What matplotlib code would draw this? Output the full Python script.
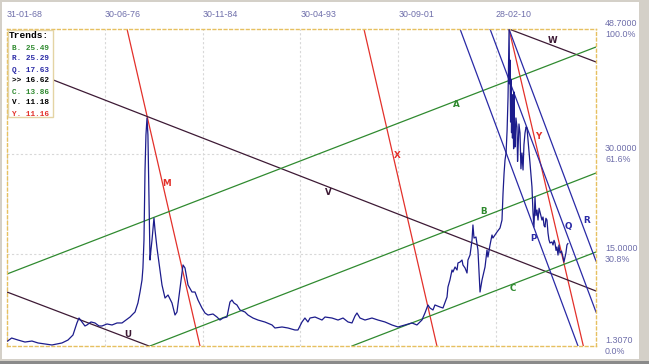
import numpy as np
import matplotlib
matplotlib.use('Agg')
import matplotlib.pyplot as plt
import matplotlib.transforms as mtrans
from matplotlib.patches import Rectangle

# Silver price (decimal year, price)
years = [1968.14, 1968.48, 1969.03, 1969.63, 1970.23, 1970.75, 1971.35, 1971.95, 1972.38, 1972.81,
         1973.33, 1973.76, 1974.10, 1974.28, 1974.53, 1974.79, 1974.96, 1975.31, 1975.65, 1976.00,
         1976.26, 1976.69, 1977.12, 1977.55, 1977.98, 1978.32, 1978.67, 1978.92, 1979.10, 1979.35,
         1979.53, 1979.70, 1979.78, 1979.87, 1979.96, 1980.04, 1980.13, 1980.21, 1980.30, 1980.39,
         1980.47, 1980.56, 1980.65, 1980.73, 1980.82, 1980.99, 1981.25, 1981.42, 1981.68, 1981.94,
         1982.28, 1982.54, 1982.71, 1982.97, 1983.14, 1983.23, 1983.40, 1983.66, 1984.00, 1984.26,
         1984.52, 1984.86, 1985.12, 1985.38, 1985.81, 1986.15, 1986.41, 1986.67, 1987.01, 1987.27,
         1987.44, 1987.61, 1987.87, 1988.13, 1988.56, 1988.82, 1989.25, 1989.68, 1990.28, 1990.89,
         1991.14, 1991.75, 1992.26, 1992.86, 1993.12, 1993.47, 1993.72, 1993.98, 1994.16, 1994.59,
         1995.19, 1995.45, 1996.05, 1996.57, 1997.00, 1997.43, 1997.77, 1998.03, 1998.20, 1998.46,
         1998.89, 1999.49, 2000.01, 2000.61, 2001.21, 2001.73, 2002.33, 2002.93, 2003.36, 2003.79,
         2004.05, 2004.31, 2004.48, 2004.74, 2004.91, 2005.34, 2005.60, 2005.95, 2006.03, 2006.20,
         2006.38, 2006.46, 2006.64, 2006.81, 2006.89, 2007.07, 2007.24, 2007.32, 2007.50, 2007.67,
         2007.75, 2007.93, 2008.10, 2008.18, 2008.27, 2008.44, 2008.61, 2008.79, 2008.96, 2009.22,
         2009.39, 2009.47, 2009.65, 2009.82, 2009.90, 2010.25, 2010.51, 2010.68, 2010.77, 2010.86,
         2010.94, 2011.03, 2011.12, 2011.20, 2011.29, 2011.33, 2011.37, 2011.42, 2011.46, 2011.50,
         2011.54, 2011.58, 2011.63, 2011.68, 2011.72, 2011.76, 2011.80, 2011.88, 2011.97, 2012.02,
         2012.06, 2012.14, 2012.23, 2012.31, 2012.40, 2012.49, 2012.57, 2012.66, 2012.75, 2012.83,
         2012.92, 2013.09, 2013.26, 2013.35, 2013.43, 2013.52, 2013.60, 2013.69, 2013.78, 2013.87,
         2013.95, 2014.12, 2014.21, 2014.30, 2014.38, 2014.46, 2014.55, 2014.64, 2014.72, 2014.81,
         2014.98, 2015.07, 2015.16, 2015.24, 2015.33, 2015.41, 2015.50, 2015.58, 2015.67, 2015.80,
         2015.93, 2016.01, 2016.10, 2016.18, 2016.27, 2016.35]
prices = [2.05, 2.50, 2.20, 1.90, 2.05, 1.76, 1.61, 1.46, 1.61, 1.76,
          2.20, 2.95, 4.75, 5.49, 4.90, 4.30, 4.45, 4.90, 4.75, 4.30,
          4.30, 4.60, 4.45, 4.75, 4.75, 5.19, 5.64, 6.09, 6.39, 7.74,
          9.38, 11.17, 12.97, 17.15, 27.62, 32.85, 35.39, 32.85, 23.13, 14.16,
          15.66, 17.15, 18.95, 20.44, 18.65, 15.96, 12.67, 10.43, 8.48, 8.93,
          7.74, 5.94, 6.39, 9.98, 12.22, 13.42, 12.97, 10.43, 9.38, 9.38,
          8.18, 6.99, 6.24, 5.94, 6.09, 5.64, 5.19, 5.49, 5.64, 7.88,
          8.18, 7.74, 7.44, 6.69, 6.39, 5.94, 5.49, 5.19, 4.89, 4.45,
          4.00, 4.15, 4.00, 3.70, 3.70, 4.90, 5.49, 4.90, 5.49, 5.64,
          5.19, 5.64, 5.49, 5.19, 5.49, 4.90, 4.75, 5.79, 6.24, 5.49,
          5.19, 5.49, 5.19, 4.90, 4.45, 4.15, 4.45, 4.75, 4.45, 5.19,
          6.24, 7.44, 6.99, 6.69, 7.44, 7.14, 6.99, 8.63, 10.13, 11.17,
          12.67, 12.37, 13.12, 12.67, 13.72, 13.86, 14.16, 13.42, 12.97, 12.22,
          14.16, 14.91, 17.15, 19.40, 17.45, 17.60, 15.66, 9.38, 11.17, 13.12,
          15.66, 14.61, 16.41, 17.90, 17.45, 18.35, 18.95, 20.14, 24.18, 27.17,
          29.11, 30.16, 33.60, 38.53, 48.70, 40.50, 44.06, 34.80, 41.20, 33.20,
          38.90, 32.40, 36.10, 30.80, 39.28, 33.60, 31.06, 35.40, 34.05, 28.90,
          30.61, 34.50, 33.15, 27.80, 30.16, 27.62, 31.40, 33.15, 34.05, 33.90,
          32.10, 28.66, 25.08, 21.19, 19.10, 23.58, 20.80, 21.64, 20.14, 21.90,
          21.34, 20.14, 20.59, 19.30, 19.10, 20.40, 20.14, 18.20, 17.20, 16.71,
          16.86, 16.41, 17.10, 16.71, 15.60, 16.11, 14.90, 16.41, 15.20, 15.50,
          14.61, 13.86, 14.61, 15.20, 16.41, 16.62]

# Trend lines: name -> ((year0, price0), (year1, price1))
trend_lines = {
    'M': ((1978.41, 48.70), (1984.69, 1.307)),
    'X': ((1998.80, 48.70), (2005.08, 1.307)),
    'Y': ((2011.28, 48.70), (2017.68, 1.307)),
    'V': ((1968.08, 43.77), (2018.77, 9.53)),
    'U': ((1968.08, 9.38), (1980.30, 1.307)),
    'W': ((2011.28, 48.70), (2018.77, 43.77)),
    'A': ((1968.08, 12.07), (2018.77, 46.01)),
    'B': ((1980.39, 1.307), (2018.77, 27.17)),
    'C': ((1997.77, 1.307), (2018.77, 15.36)),
    'P': ((2007.07, 48.70), (2017.22, 1.307)),
    'Q': ((2009.65, 48.70), (2018.77, 6.39)),
    'R': ((2011.28, 48.70), (2018.77, 14.01)),
}

legend_names = ['B.', 'R.', 'Q.', '>>', 'C.', 'V.', 'Y.']
legend_values = [25.49, 25.29, 17.63, 16.62, 13.86, 11.18, 11.16]

date_ticks = [1968.082, 1976.495, 1984.913, 1993.326, 2001.745, 2010.159]
date_labels = ['31-01-68', '30-06-76', '30-11-84', '30-04-93', '30-09-01', '28-02-10']

price_levels = [48.70, 30.0, 15.0, 1.307]
level_labels = ['48.7000\n100.0%', '30.0000\n61.6%', '15.0000\n30.8%', '1.3070\n0.0%']

RED = '#e3312b'
GREEN = '#2f8a2f'
DARK = '#3d1a35'
BLUE = '#2a2aa6'
NAVY = '#1c1c8c'
TXT = '#6e6eaa'

line_colors = {'M': RED, 'X': RED, 'Y': RED, 'V': DARK, 'U': DARK, 'W': DARK,
               'A': GREEN, 'B': GREEN, 'C': GREEN, 'P': BLUE, 'Q': BLUE, 'R': BLUE}
legend_colors = [GREEN, BLUE, BLUE, 'black', GREEN, 'black', RED]

# where the letters sit next to each line
label_pos = {'M': (1981.85, 25.67), 'X': (2001.64, 29.86), 'Y': (2013.78, 32.70),
             'A': (2006.72, 37.34), 'B': (2009.13, 21.49), 'C': (2011.63, 9.83),
             'V': (1995.70, 24.33), 'U': (1978.49, 3.10), 'W': (2015.07, 47.05),
             'P': (2013.35, 17.45), 'Q': (2016.36, 19.10), 'R': (2018.0, 20.14)}

W, H = 649, 364
fig = plt.figure(figsize=(W / 100, H / 100), dpi=100)
fig.patch.set_facecolor('#d4d0c8')
fig.patches.append(Rectangle((2 / W, 5 / H), 637 / W, 357 / H, transform=fig.transFigure,
                             facecolor='white', edgecolor='none', zorder=-10))
fig.patches.append(Rectangle((0, 0), 1, 3 / H, transform=fig.transFigure,
                             facecolor='#8a8a8a', edgecolor='none', zorder=-10))

ax = fig.add_axes([7 / W, 18 / H, 589 / W, 317 / H])
ax.set_facecolor('white')
ax.set_xlim(1968.082, 2018.77)
ax.set_ylim(1.307, 48.70)

for s in ax.spines.values():
    s.set_color('#e6c060')
    s.set_linestyle((0, (2, 2)))
    s.set_linewidth(1)

ax.set_xticks(date_ticks)
ax.set_xticklabels(date_labels, ha='left', fontsize=6.4, color=TXT, family='Liberation Sans')
ax.xaxis.tick_top()
ax.tick_params(axis='x', length=0, pad=7.5)
ax.set_yticks([15, 30])
ax.set_yticklabels([])
ax.tick_params(axis='y', length=0)
ax.grid(True, color='#d8d8d8', linestyle=(0, (2, 2)), linewidth=0.8)

ax.plot(years, prices, color=NAVY, lw=0.9, zorder=3)

for name, (p0, p1) in trend_lines.items():
    ax.plot([p0[0], p1[0]], [p0[1], p1[1]], color=line_colors[name], lw=0.9, zorder=2)
    lx, ly = label_pos[name]
    ax.text(lx, ly, name, color=line_colors[name], fontsize=6.3, fontweight='bold',
            ha='center', va='center', family='DejaVu Sans', zorder=4)

# right-hand price labels
tr = mtrans.blended_transform_factory(ax.transAxes, ax.transData)
for lvl, lab in zip(price_levels, level_labels):
    ax.text(1 + 9 / 589, lvl, lab, transform=tr, ha='left', va='center', fontsize=6.4,
            color=TXT, family='Liberation Sans', linespacing=1.3, clip_on=False)

# trends box
ax.add_patch(Rectangle((0.002, 1 - 88 / 317), 45 / 589, 87 / 317, transform=ax.transAxes,
                       facecolor='white', edgecolor='#e4d4a4', lw=1, zorder=5))
ax.text(1.5 / 589, 1 - 7 / 317, 'Trends:', transform=ax.transAxes, fontsize=6.8,
        fontweight='bold', family='Liberation Mono', va='center', ha='left', zorder=6)
for i, (nm, val, c) in enumerate(zip(legend_names, legend_values, legend_colors)):
    ax.text(5.5 / 589, 1 - (19 + 11 * i) / 317, f'{nm} {val:.2f}', transform=ax.transAxes,
            fontsize=5.6, fontweight='bold', color=c, family='Liberation Mono',
            va='center', ha='left', zorder=6)

fig.savefig('out.png', dpi=100, facecolor=fig.get_facecolor())
